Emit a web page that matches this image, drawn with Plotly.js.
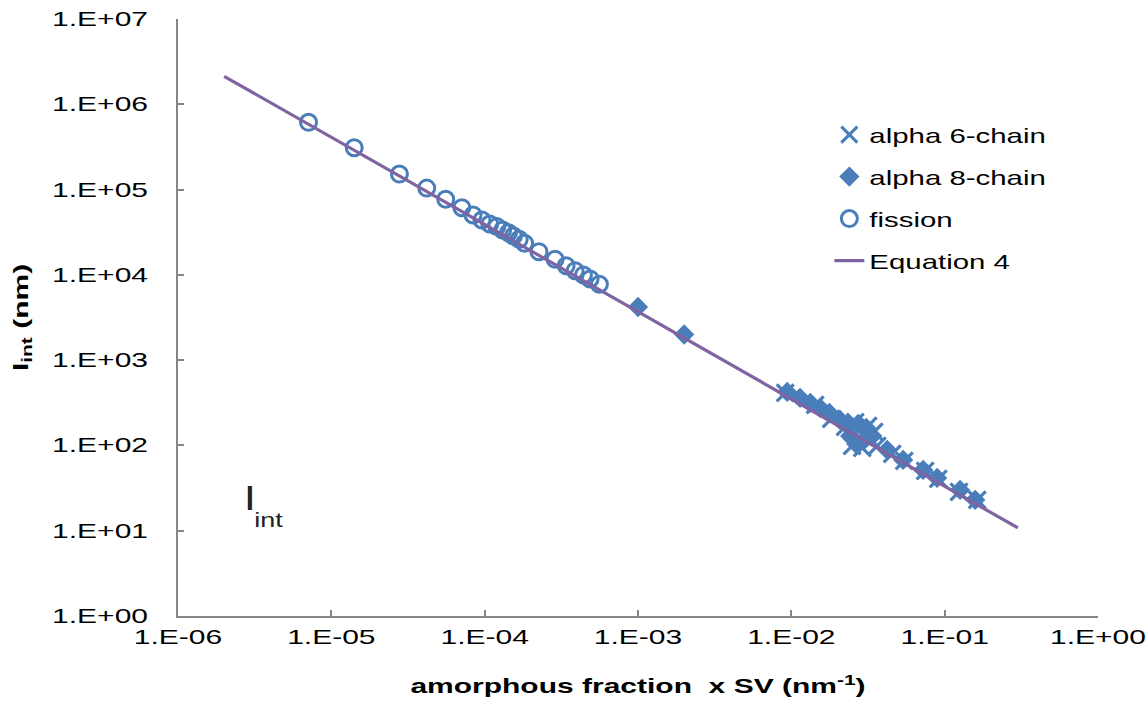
<!DOCTYPE html>
<html>
<head>
<meta charset="utf-8">
<script src="https://cdn.plot.ly/plotly-3.0.1.min.js"></script>
<style>
html,body{margin:0;padding:0;background:#fff;}
#chart{width:1148px;height:719px;}
</style>
</head>
<body>
<div id="chart"></div>
<script>
// ---- data ----
const alpha6X = [9.12e-3, 1.43e-2, 1.82e-2, 2.24e-2, 2.61e-2, 3.17e-2, 3.47e-2, 2.49e-2, 2.90e-2, 3.63e-2, 4.55e-2, 5.45e-2, 7.46e-2, 9.08e-2, 0.124, 0.163];
const alpha6Y = [412, 299, 205, 165, 188, 169, 144, 98.6, 93.5, 98.6, 79.4, 65.8, 50.2, 40.5, 28.5, 23.0];

const alpha8X = [1.0e-3, 2.0e-3, 9.4e-3, 1.14e-2, 1.33e-2, 1.54e-2, 1.77e-2, 2.08e-2, 2.31e-2, 2.73e-2, 3.08e-2, 3.37e-2, 2.42e-2, 2.65e-2, 2.99e-2, 4.22e-2, 5.36e-2, 7.24e-2, 8.93e-2, 0.126, 0.158];
const alpha8Y = [4.2e3, 2.0e3, 424, 361, 315, 275, 240, 199, 174, 179, 160, 129, 129, 104, 116, 88.5, 67.6, 51.6, 41.6, 30.1, 23.0];

const fissionX = [7.1e-6, 1.41e-5, 2.78e-5, 4.19e-5, 5.57e-5, 7.1e-5, 8.4e-5, 9.6e-5, 1.08e-4, 1.2e-4, 1.31e-4, 1.43e-4, 1.54e-4, 1.68e-4, 1.82e-4, 2.26e-4, 2.88e-4, 3.4e-4, 3.89e-4, 4.41e-4, 4.87e-4, 5.6e-4];
const fissionY = [6.15e5, 3.1e5, 1.52e5, 1.04e5, 7.7e4, 6.13e4, 5.04e4, 4.4e4, 3.95e4, 3.68e4, 3.36e4, 3.12e4, 2.86e4, 2.61e4, 2.35e4, 1.87e4, 1.52e4, 1.28e4, 1.12e4, 9.97e3, 8.95e3, 7.76e3];

const eq4X = [2e-6, 0.3];
const eq4Y = [2.13e6, 10.8];

const xTickVals = [1e-6, 1e-5, 1e-4, 1e-3, 1e-2, 1e-1, 1e0];
const xTickText = ["1.E-06", "1.E-05", "1.E-04", "1.E-03", "1.E-02", "1.E-01", "1.E+00"];
const yTickVals = [1e0, 1e1, 1e2, 1e3, 1e4, 1e5, 1e6, 1e7];
const yTickText = ["1.E+00", "1.E+01", "1.E+02", "1.E+03", "1.E+04", "1.E+05", "1.E+06", "1.E+07"];

const seriesNames = ["alpha 6-chain", "alpha 8-chain", "fission", "Equation 4"];

// ---- styling ----
const BLUE = '#4A7EBB';
const PURPLE = '#8064A2';
const AXIS = '#868686';
const FONT = 'Liberation Sans, Arial, sans-serif';

const traces = [
  {x: alpha6X, y: alpha6Y, name: seriesNames[0], type: 'scatter', mode: 'markers',
   marker: {symbol: 'x-thin-open', size: 17, color: BLUE, line: {color: BLUE, width: 3.2}}},
  {x: alpha8X, y: alpha8Y, name: seriesNames[1], type: 'scatter', mode: 'markers',
   marker: {symbol: 'diamond', size: 14, color: BLUE, line: {color: BLUE, width: 1.5}}},
  {x: fissionX, y: fissionY, name: seriesNames[2], type: 'scatter', mode: 'markers',
   marker: {symbol: 'circle-open', size: 16, color: BLUE, line: {color: BLUE, width: 3}}},
  {x: eq4X, y: eq4Y, name: seriesNames[3], type: 'scatter', mode: 'lines',
   line: {color: PURPLE, width: 3.2}}
];

const axisCommon = {
  type: 'log', showgrid: false, zeroline: false, showline: true,
  linecolor: AXIS, linewidth: 2, ticks: 'inside', ticklen: 6, tickwidth: 2, tickcolor: AXIS,
  tickmode: 'array', tickfont: {family: FONT, size: 20, color: '#000'}
};

const layout = {
  width: 1148, height: 719,
  margin: {l: 178, r: 50, t: 19, b: 103},
  paper_bgcolor: '#fff', plot_bgcolor: '#fff',
  font: {family: FONT, color: '#000'},
  showlegend: true,
  legend: {x: 0.708, y: 0.85, xanchor: 'left', yanchor: 'top', bgcolor: 'rgba(0,0,0,0)',
           font: {family: FONT, size: 30, color: '#000'}},
  xaxis: Object.assign({}, axisCommon, {
    range: [-6, 0], tickvals: xTickVals, ticktext: xTickText, ticklabelstandoff: 2,
    title: {text: '<b>amorphous fraction\u00a0\u00a0x SV (nm<sup>-1</sup>)</b>', font: {family: FONT, size: 20, color: '#000'}, standoff: 32}
  }),
  yaxis: Object.assign({}, axisCommon, {
    range: [0, 7], tickvals: yTickVals, ticktext: yTickText, ticklabelstandoff: 24,
    title: {text: '<b>l<sub>int</sub> (nm)</b>', font: {family: FONT, size: 20, color: '#000'}, standoff: 50}
  }),
  annotations: [
    {text: 'l', xref: 'paper', yref: 'paper', x: 0.0718, y: 0.1625, showarrow: false,
     font: {family: FONT, size: 34, color: '#222'}},
    {text: 'int', xref: 'paper', yref: 'paper', x: 0.0848, y: 0.139, showarrow: false,
     font: {family: FONT, size: 20, color: '#222'}}
  ]
};

// The reference's text is drawn horizontally wide; widen the real text nodes.
function stretch(sel, sx, sy) {
  document.querySelectorAll(sel).forEach(t => {
    if (t.getAttribute('data-st')) return;
    const bb = t.getBBox();
    const anchor = t.getAttribute('text-anchor') || 'start';
    const cx = anchor === 'end' ? bb.x + bb.width : (anchor === 'middle' ? bb.x + bb.width / 2 : bb.x);
    const cy = bb.y + bb.height / 2;
    const tr = t.getAttribute('transform') || '';
    t.setAttribute('transform', tr + ' translate(' + cx + ',' + cy + ') scale(' + sx + ',' + sy + ') translate(' + (-cx) + ',' + (-cy) + ')');
    t.setAttribute('data-st', '1');
  });
}
function widenAll() {
  stretch('.xtick text', 1.5, 1);
  stretch('.ytick text', 1.5, 1);
  stretch('.g-xtitle text', 1.5, 1);
  stretch('.g-ytitle text', 1.5, 1);
  stretch('.legendtext', 0.98, 0.7);
  stretch('.annotation-text', 1.35, 1);
}

const gd = document.getElementById('chart');
Plotly.newPlot(gd, traces, layout, {displayModeBar: false, staticPlot: true}).then(() => {
  widenAll();
  gd.on && gd.on('plotly_afterplot', widenAll);
});
</script>
</body>
</html>
